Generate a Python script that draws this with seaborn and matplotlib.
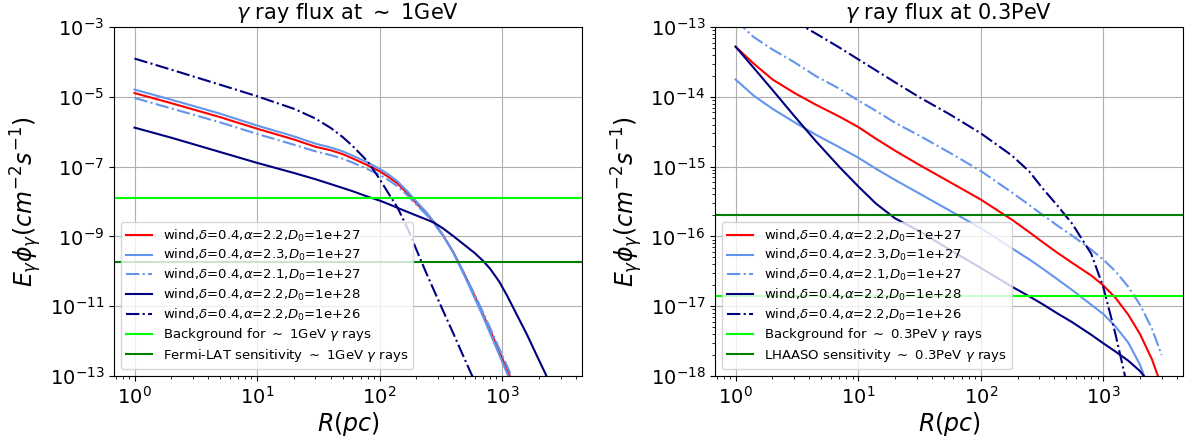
import numpy as np
import seaborn as sns
from matplotlib import pyplot as plt

# distances (pc) at which the curves were read
R_LEFT = [1, 2, 5, 10, 20, 30, 40, 50, 60, 80, 100, 120, 140, 170, 200, 240, 280,
          330, 400, 500, 600, 700, 800, 950, 1100, 1300, 1600, 1900, 2200, 2600, 3000]
R_RIGHT = [1, 1.4, 2, 3, 4.5, 7, 10, 14, 20, 32, 56, 100, 180, 250, 320, 420, 560,
           800, 1000, 1260, 1600, 2000, 2500, 3000]

# log10 of the flux, ~1 GeV panel
gev_a22 = [-4.89, -5.18, -5.58, -5.91, -6.22, -6.43, -6.53, -6.64, -6.76, -6.96,
           -7.13, -7.31, -7.48, -7.78, -8.05, -8.33, -8.62, -8.97, -9.45, -10.13,
           -10.72, -11.24, -11.70, -12.30, -12.82, -13.45]
gev_a23 = [-4.79, -5.08, -5.48, -5.82, -6.13, -6.34, -6.45, -6.56, -6.68, -6.88,
           -7.06, -7.24, -7.42, -7.72, -8.00, -8.30, -8.60, -8.97, -9.47, -10.17,
           -10.78, -11.30, -11.78, -12.40, -12.93, -13.5]
gev_a21 = [-5.03, -5.33, -5.73, -6.06, -6.37, -6.56, -6.67, -6.77, -6.88, -7.07,
           -7.23, -7.40, -7.56, -7.83, -8.09, -8.37, -8.64, -8.98, -9.45, -10.11,
           -10.68, -11.18, -11.63, -12.22, -12.72, -13.3]
gev_d28 = [-5.88, -6.17, -6.58, -6.89, -7.18, -7.36, -7.50, -7.61, -7.70, -7.86,
           -7.97, -8.08, -8.18, -8.30, -8.40, -8.51, -8.61, -8.77, -8.99, -9.26,
           -9.48, -9.70, -9.93, -10.30, -10.70, -11.20, -11.82, -12.38, -12.85, -13.4]
gev_d26 = [-3.90, -4.22, -4.65, -4.98, -5.34, -5.62, -5.89, -6.15, -6.40, -6.85,
           -7.35, -7.80, -8.17, -8.78, -9.38, -10.04, -10.57, -11.13, -11.78, -12.55,
           -13.17]
gev_background = 1.26e-8
gev_fermi = 1.86e-10

# log10 of the flux, ~0.3 PeV panel
pev_a22 = [-13.28, -13.52, -13.75, -13.94, -14.11, -14.28, -14.43, -14.60, -14.77,
           -14.98, -15.22, -15.47, -15.76, -15.94, -16.08, -16.23, -16.38, -16.56,
           -16.70, -16.88, -17.12, -17.40, -17.76, -18.15]
pev_a23 = [-13.75, -13.98, -14.17, -14.36, -14.54, -14.72, -14.87, -15.03, -15.19,
           -15.39, -15.63, -15.88, -16.17, -16.33, -16.46, -16.61, -16.77, -16.98,
           -17.11, -17.29, -17.52, -17.84, -18.3]
pev_a21 = [-12.90, -13.14, -13.32, -13.50, -13.70, -13.88, -14.05, -14.20, -14.37,
           -14.56, -14.80, -15.06, -15.37, -15.55, -15.69, -15.84, -15.99, -16.19,
           -16.33, -16.50, -16.72, -16.98, -17.32, -17.70]
pev_d28 = [-13.28, -13.58, -13.90, -14.27, -14.63, -15.00, -15.28, -15.53, -15.74,
           -15.93, -16.19, -16.45, -16.72, -16.86, -16.97, -17.10, -17.23, -17.41,
           -17.53, -17.65, -17.78, -17.93, -18.15]
pev_d26 = [-12.45, -12.60, -12.74, -12.91, -13.09, -13.29, -13.46, -13.62, -13.79,
           -14.01, -14.25, -14.52, -14.84, -15.07, -15.31, -15.55, -15.82, -16.25,
           -16.72, -17.40, -18.2]
pev_background = 1.38e-17
pev_lhaaso = 2.05e-16

LABELS = [
    r"wind,$\delta$=0.4,$\alpha$=2.2,$D_0$=1e+27",
    r"wind,$\delta$=0.4,$\alpha$=2.3,$D_0$=1e+27",
    r"wind,$\delta$=0.4,$\alpha$=2.1,$D_0$=1e+27",
    r"wind,$\delta$=0.4,$\alpha$=2.2,$D_0$=1e+28",
    r"wind,$\delta$=0.4,$\alpha$=2.2,$D_0$=1e+26",
]
STYLES = [("red", "-"), ("cornflowerblue", "-"), ("cornflowerblue", "-."),
          ("navy", "-"), ("navy", "-.")]


def panel(ax, r, curves, background, sensitivity, energy, instrument, title, ylim):
    for vals, label, (color, ls) in zip(curves, LABELS, STYLES):
        sns.lineplot(ax=ax, x=r[:len(vals)], y=10 ** np.array(vals), color=color,
                     linestyle=ls, lw=1.5, label=label, sort=False)
    ax.axhline(background, color="lime", lw=1.5,
               label=rf"Background for $\sim$ {energy} $\gamma$ rays")
    ax.axhline(sensitivity, color="green", lw=1.5,
               label=rf"{instrument} sensitivity $\sim$ {energy} $\gamma$ rays")
    ax.set_xscale("log")
    ax.set_yscale("log")
    ax.set_xlim(0.68, 4470)
    ax.set_ylim(*ylim)
    ax.grid(True, color="#b0b0b0", lw=0.8)
    ax.set_title(title, fontsize=15)
    ax.set_xlabel(r"$R(pc)$", fontsize=17, labelpad=2)
    ax.set_ylabel(r"$E_{\gamma}\phi_{\gamma}(cm^{-2}s^{-1})$", fontsize=17)
    ax.tick_params(labelsize=14)
    ax.legend(loc="lower left", fontsize=9.5, labelspacing=0.28)


fig, (ax1, ax2) = plt.subplots(1, 2, figsize=(11.96, 4.38), dpi=100)
fig.subplots_adjust(left=0.0953, right=0.989, bottom=0.1416, top=0.938, wspace=0.285)

panel(ax1, R_LEFT, [gev_a22, gev_a23, gev_a21, gev_d28, gev_d26],
      gev_background, gev_fermi, "1GeV", "Fermi-LAT",
      r"$\gamma$ ray flux at $\sim$ 1GeV", (1e-13, 1e-3))
panel(ax2, R_RIGHT, [pev_a22, pev_a23, pev_a21, pev_d28, pev_d26],
      pev_background, pev_lhaaso, "0.3PeV", "LHAASO",
      r"$\gamma$ ray flux at 0.3PeV", (1e-18, 1e-13))

fig.savefig("out.png", dpi=100)
